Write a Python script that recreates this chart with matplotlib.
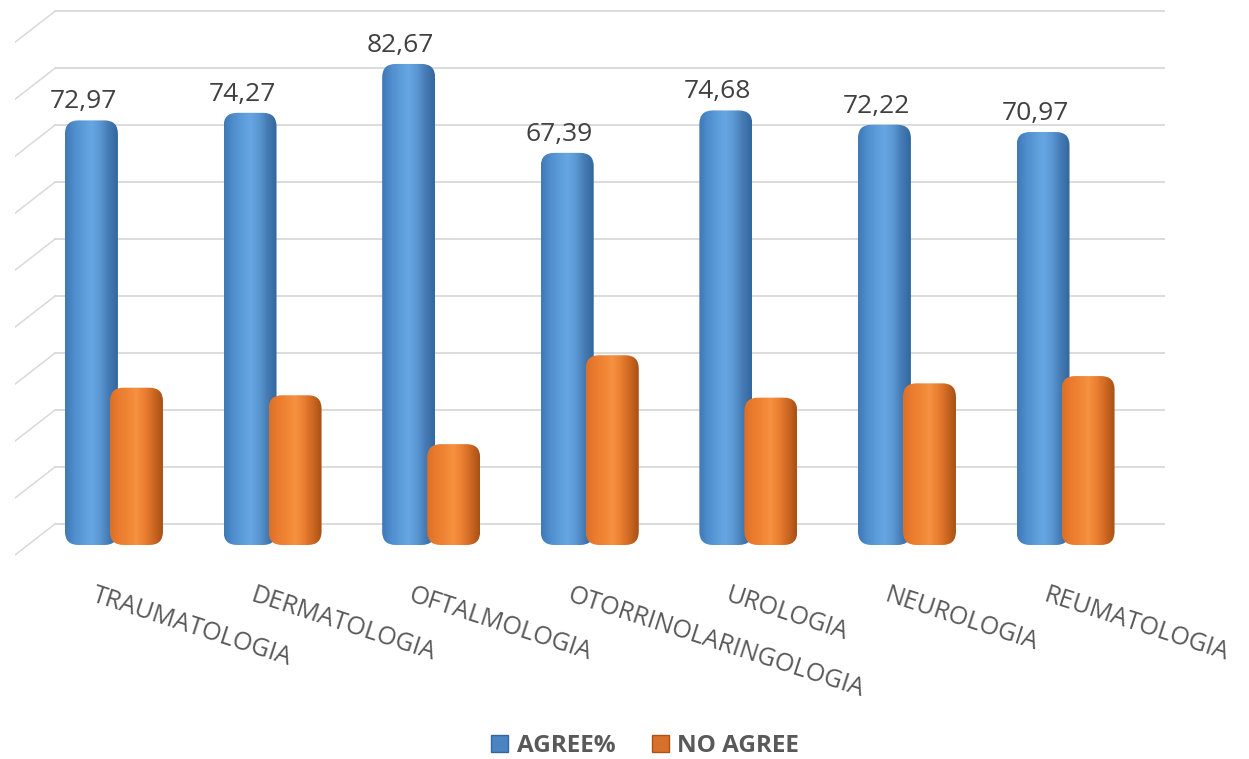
import matplotlib.pyplot as plt
import numpy as np
from matplotlib.patches import FancyBboxPatch, Patch
from matplotlib.colors import LinearSegmentedColormap

categories = ['TRAUMATOLOGIA', 'DERMATOLOGIA', 'OFTALMOLOGIA', 'OTORRINOLARINGOLOGIA',
              'UROLOGIA', 'NEUROLOGIA', 'REUMATOLOGIA']
agree = [72.97, 74.27, 82.67, 67.39, 74.68, 72.22, 70.97]
no_agree = [27.03, 25.73, 17.33, 32.61, 25.32, 27.78, 29.03]
grid_levels = [0, 10, 20, 30, 40, 50, 60, 70, 80, 90]

plt.rcParams['font.family'] = ['Open Sans', 'DejaVu Sans']

fig = plt.figure(figsize=(12.49, 7.59), dpi=100)
ax = fig.add_axes([15 / 1249, 1 - 560 / 759, 1150 / 1249, 555 / 759])
x_left, x_right = -0.624, 6.627
y_low, y_high = -2.58, 92.8

# back wall grid (pseudo 3d): slanted floor edge + horizontal line
for lv in grid_levels:
    yb = 3.61 + 0.979 * lv
    ax.plot([x_left, -0.372], [yb - 5.33, yb], color='#d9d9d9', lw=1.1, zorder=1)
    ax.plot([-0.372, x_right], [yb, yb], color='#d9d9d9', lw=1.3, zorder=1)

blue_cmap = LinearSegmentedColormap.from_list(
    'blue', ['#3f78b6', '#4f8dcd', '#5b9bd8', '#66a6e2', '#5a97d2', '#4479b2', '#33679f'])
orange_cmap = LinearSegmentedColormap.from_list(
    'orange', ['#dc7027', '#ea7b2f', '#f08535', '#f59240', '#e97d30', '#cc6722', '#a65015'])

width = 0.334
offset = 0.142
grad = np.linspace(0, 1, 256).reshape(1, -1)


def cylinder(x, h, cmap):
    x0 = x - width / 2
    body = FancyBboxPatch((x0, 0), width, h,
                          boxstyle='round,pad=0,rounding_size=0.085',
                          mutation_aspect=27.25, facecolor='none', edgecolor='none')
    ax.add_patch(body)
    im = ax.imshow(grad, extent=[x0, x0 + width, 0, h], cmap=cmap,
                   aspect='auto', interpolation='bicubic', zorder=3)
    im.set_clip_path(body)


xs = np.arange(len(categories))
for i in xs:
    cylinder(i - offset, agree[i], blue_cmap)
    cylinder(i + offset, no_agree[i], orange_cmap)
    ax.text(i - offset - 0.05, agree[i] + 2.1, f'{agree[i]:.2f}'.replace('.', ','),
            ha='center', va='baseline', fontsize=19, color='#404040', zorder=5)
    ax.text(i - 0.11, -6.5, categories[i], rotation=-18, rotation_mode='anchor',
            ha='left', va='top', fontsize=18, color='#595959')

ax.set_xlim(x_left, x_right)
ax.set_ylim(y_low, y_high)
ax.axis('off')

handles = [Patch(facecolor='#4a84c2', edgecolor='#35669c', label='AGREE%'),
           Patch(facecolor='#d8712b', edgecolor='#a8531a', label='NO AGREE')]
fig.legend(handles=handles, loc='center', bbox_to_anchor=(645 / 1249, 1 - 746 / 759),
           ncol=2, frameon=False, handlelength=0.7, handleheight=0.7,
           handletextpad=0.35, columnspacing=1.5, labelcolor='#595959',
           prop={'weight': 'bold', 'size': 17.5})

fig.savefig('out.png', dpi=100)
